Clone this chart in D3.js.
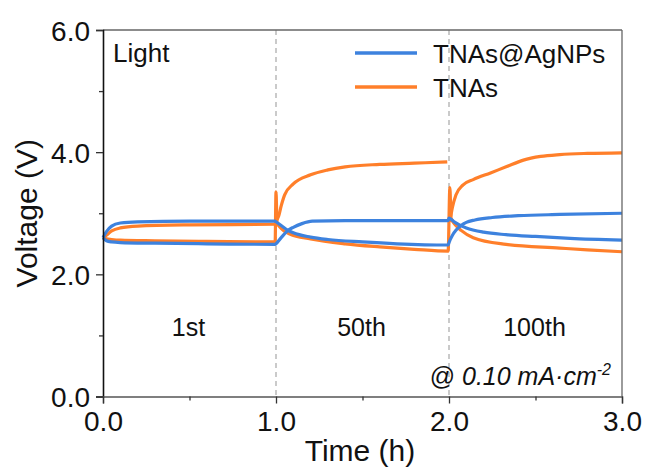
<!DOCTYPE html>
<html>
<head>
<meta charset="utf-8">
<script src="https://cdn.jsdelivr.net/npm/d3@7"></script>
<style>
  body { margin: 0; background: #fff; }
  svg text { font-family: Arial, "Liberation Sans", sans-serif; fill: #111; }
</style>
</head>
<body>
<svg id="chart"></svg>
<script>
// time (h), voltage (V); null = gap in the trace
const blueRise = [
  [0, 2.6], [0.02, 2.7], [0.05, 2.79], [0.1, 2.84], [0.2, 2.86], [0.5, 2.87], [0.995, 2.87],
  [1.0, 2.86], [1.03, 2.8], [1.07, 2.72], [1.1, 2.68], [1.2, 2.61], [1.3, 2.57], [1.5, 2.53], [1.7, 2.5], [1.995, 2.48],
  [2.0, 2.52], [2.02, 2.64], [2.04, 2.72], [2.07, 2.8], [2.1, 2.85], [2.15, 2.89], [2.25, 2.93], [2.4, 2.96], [2.64, 2.98], [3.0, 3.0]
];
const blueFall = [
  [0, 2.6], [0.02, 2.55], [0.05, 2.53], [0.1, 2.52], [0.3, 2.51], [0.6, 2.5], [0.995, 2.49],
  [1.0, 2.5], [1.03, 2.6], [1.07, 2.72], [1.1, 2.77], [1.15, 2.83], [1.21, 2.87], [1.4, 2.88], [1.995, 2.88],
  [2.0, 2.92], [2.03, 2.86], [2.06, 2.81], [2.1, 2.76], [2.2, 2.69], [2.33, 2.65], [2.5, 2.62], [2.7, 2.59], [3.0, 2.56]
];
const orangeRise = [
  [0, 2.6], [0.02, 2.64], [0.05, 2.71], [0.1, 2.76], [0.2, 2.79], [0.5, 2.81], [0.995, 2.82],
  [1.003, 2.88], [1.015, 2.95], [1.03, 3.12], [1.05, 3.3], [1.1, 3.48], [1.2, 3.63], [1.3, 3.71], [1.4, 3.76], [1.6, 3.8], [1.8, 3.82], [1.99, 3.84],
  null,
  [2.01, 2.95], [2.02, 3.1], [2.04, 3.3], [2.08, 3.46], [2.14, 3.55], [2.24, 3.66], [2.33, 3.76], [2.43, 3.87], [2.53, 3.93], [2.64, 3.96], [2.8, 3.98], [3.0, 3.99]
];
const orangeFall = [
  [0, 2.6], [0.02, 2.58], [0.05, 2.57], [0.1, 2.56], [0.3, 2.55], [0.6, 2.54], [0.995, 2.53],
  [1.0, 3.35], [1.006, 2.85], [1.03, 2.75], [1.08, 2.66], [1.2, 2.58], [1.4, 2.5], [1.6, 2.45], [1.8, 2.41], [1.995, 2.38],
  [2.005, 3.42], [2.012, 2.92], [2.04, 2.8], [2.07, 2.72], [2.14, 2.6], [2.33, 2.49], [2.64, 2.43], [2.8, 2.4], [3.0, 2.37]
];
const cycleLabels = ["1st", "50th", "100th"];
const cycleCenters = [0.5, 1.5, 2.5];
const cycleBreaks = [1, 2];
const yTicks = [0, 2, 4, 6];
const yMinor = [1, 3, 5];
const xTicks = [0, 1, 2, 3];
const xMinor = [0.5, 1.5, 2.5];
const seriesNames = ["TNAs@AgNPs", "TNAs"];

const W = 646, H = 469;
const margin = {top: 30, right: 24, bottom: 72.5, left: 103};
const blue = "#3d82de", orange = "#ff7f2a";

const svg = d3.select("#chart").attr("width", W).attr("height", H);

const x = d3.scaleLinear().domain([0, 3]).range([margin.left, W - margin.right]);
const y = d3.scaleLinear().domain([0, 6]).range([H - margin.bottom, margin.top]);

// dashed cycle separators
svg.selectAll("line.sep")
  .data(cycleBreaks)
  .join("line")
  .attr("x1", d => x(d)).attr("x2", d => x(d))
  .attr("y1", y(6)).attr("y2", y(0))
  .attr("stroke", "#bdbdbd").attr("stroke-width", 1.6)
  .attr("stroke-dasharray", "5,4");

// curves
const line = d3.line()
  .defined(d => d !== null)
  .x(d => x(d[0])).y(d => y(d[1]))
  .curve(d3.curveMonotoneX);
const curves = [
  {data: orangeFall, color: orange},
  {data: orangeRise, color: orange},
  {data: blueFall, color: blue},
  {data: blueRise, color: blue}
];
svg.selectAll("path.curve")
  .data(curves)
  .join("path")
  .attr("class", "curve")
  .attr("d", d => line(d.data))
  .attr("fill", "none")
  .attr("stroke", d => d.color)
  .attr("stroke-width", 3.2)
  .attr("stroke-linejoin", "round");

// frame
svg.append("line").attr("x1", x(0)).attr("x2", x(3)).attr("y1", y(6)).attr("y2", y(6)).attr("stroke", "#666").attr("stroke-width", 1.3);
svg.append("line").attr("x1", x(3)).attr("x2", x(3)).attr("y1", y(6)).attr("y2", y(0)).attr("stroke", "#666").attr("stroke-width", 1.3);

// axes
const yAxis = svg.append("g")
  .attr("transform", `translate(${x(0)},0)`)
  .call(d3.axisLeft(y).tickValues(yTicks).tickFormat(d3.format(".1f")).tickSize(7).tickPadding(6));
svg.append("g")
  .attr("transform", `translate(${x(0)},0)`)
  .call(d3.axisLeft(y).tickValues(yMinor).tickFormat("").tickSize(4))
  .call(g => g.select(".domain").remove());

const xAxis = svg.append("g")
  .attr("transform", `translate(0,${y(0)})`)
  .call(d3.axisBottom(x).tickValues(xTicks).tickFormat(d3.format(".1f")).tickSize(7).tickPadding(6));
svg.append("g")
  .attr("transform", `translate(0,${y(0)})`)
  .call(d3.axisBottom(x).tickValues(xMinor).tickFormat("").tickSize(4))
  .call(g => g.select(".domain").remove());

svg.selectAll(".tick line").attr("stroke", "#333").attr("stroke-width", 1.3);
yAxis.select(".domain").attr("stroke", "#111").attr("stroke-width", 1.6);
xAxis.select(".domain").attr("stroke", "#555").attr("stroke-width", 1.4);

yAxis.selectAll(".tick text")
  .attr("font-size", 28).attr("x", -13).attr("dy", "0.36em")
  .style("font-family", "Arial, 'Liberation Sans', sans-serif").attr("fill", "#111");
xAxis.selectAll(".tick text")
  .attr("font-size", 28).attr("y", 34).attr("dy", 0)
  .style("font-family", "Arial, 'Liberation Sans', sans-serif").attr("fill", "#111");

// axis titles
svg.append("text")
  .attr("transform", `translate(37,${(y(0) + y(6)) / 2}) rotate(-90)`)
  .attr("text-anchor", "middle")
  .attr("font-size", 30)
  .text("Voltage (V)");
svg.append("text")
  .attr("x", 360).attr("y", 461)
  .attr("text-anchor", "middle")
  .attr("font-size", 30)
  .text("Time (h)");

// annotations
svg.append("text").attr("x", 113).attr("y", 62).attr("font-size", 26).text("Light");
svg.selectAll("text.cyc")
  .data(cycleLabels)
  .join("text")
  .attr("class", "cyc")
  .attr("x", (d, i) => x(cycleCenters[i]) - 1)
  .attr("y", 336)
  .attr("text-anchor", "middle")
  .attr("font-size", 25)
  .text(d => d);

const note = svg.append("text")
  .attr("x", 611).attr("y", 385)
  .attr("text-anchor", "end")
  .attr("font-size", 25);
note.append("tspan").text("@ ");
note.append("tspan").attr("font-style", "italic").text("0.10 mA·cm");
note.append("tspan").attr("font-style", "italic").attr("font-size", 16).attr("dy", -10).text("-2");

// legend
const legend = svg.append("g");
seriesNames.forEach((name, i) => {
  const ly = 53 + i * 34;
  legend.append("line")
    .attr("x1", 355).attr("x2", 417).attr("y1", ly).attr("y2", ly)
    .attr("stroke", i === 0 ? blue : orange).attr("stroke-width", 3.5);
  legend.append("text")
    .attr("x", 433).attr("y", ly + 9.5)
    .attr("font-size", 26)
    .text(name);
});
</script>
</body>
</html>
